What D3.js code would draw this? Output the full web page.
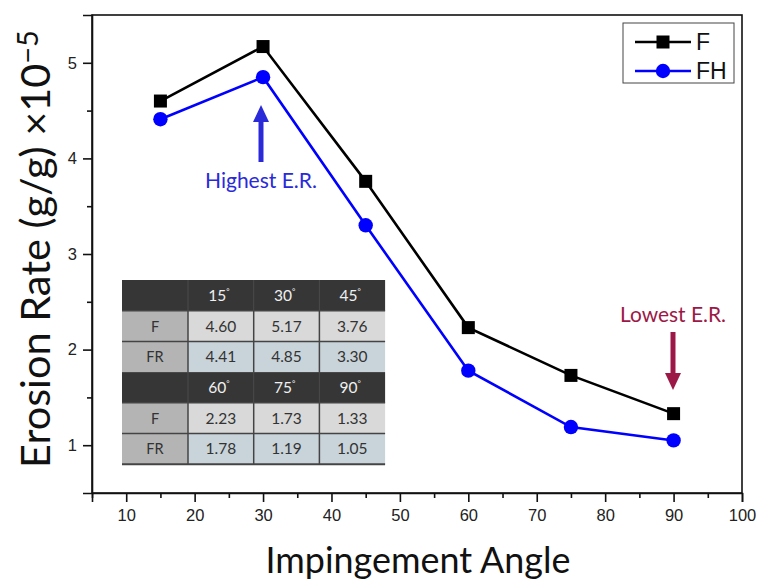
<!DOCTYPE html>
<html><head><meta charset="utf-8">
<script src="https://cdn.jsdelivr.net/npm/d3@7"></script>
<style>html,body{margin:0;padding:0;background:#fff;} svg{display:block;}</style>
</head><body>
<svg id="c" width="760" height="582"></svg>
<script>
const angles = [15, 30, 45, 60, 75, 90];
const seriesF = [4.60, 5.17, 3.76, 2.23, 1.73, 1.33];
const seriesFH = [4.41, 4.85, 3.30, 1.78, 1.19, 1.05];
const legendLabels = ["F", "FH"];
const tableRowLabels = ["F", "FR"];
const xTicks = [10, 20, 30, 40, 50, 60, 70, 80, 90, 100];
const yTicks = [1, 2, 3, 4, 5];

const svg = d3.select("#c");
const m = {l: 92, r: 742, t: 15, b: 493};
const x = d3.scaleLinear().domain([5, 100]).range([m.l, m.r]);
const y = d3.scaleLinear().domain([0.5, 5.5]).range([m.b, m.t]);
const calib = "Lato, 'Open Sans', sans-serif";
const arial = "'Liberation Sans', Arial, sans-serif";

function fitText(sel, target) {
  const w = sel.node().getComputedTextLength();
  const fs = parseFloat(sel.attr("font-size"));
  sel.attr("font-size", fs * target / w);
}

// frame
svg.append("rect").attr("x", m.l).attr("y", m.t).attr("width", m.r - m.l).attr("height", m.b - m.t)
  .attr("fill", "none").attr("stroke", "#111").attr("stroke-width", 1.6);

// x axis
svg.append("g").attr("transform", `translate(0,${m.b})`)
  .call(d3.axisBottom(x).tickValues(xTicks).tickSize(9).tickPadding(7).tickFormat(d3.format("d")));
svg.append("g").attr("transform", `translate(0,${m.b})`)
  .call(d3.axisBottom(x).tickValues(d3.range(5, 100, 10)).tickSize(5).tickFormat(""))
  .call(g => g.select(".domain").remove());
// y axis
svg.append("g").attr("transform", `translate(${m.l},0)`)
  .call(d3.axisLeft(y).tickValues(yTicks).tickSize(9).tickPadding(6).tickFormat(d3.format("d")));
svg.append("g").attr("transform", `translate(${m.l},0)`)
  .call(d3.axisLeft(y).tickValues(d3.range(1.5, 5.5, 1)).tickSize(5).tickFormat(""))
  .call(g => g.select(".domain").remove());
svg.selectAll(".domain").attr("stroke", "#111").attr("stroke-width", 1.6);
svg.selectAll(".tick line").attr("stroke", "#111").attr("stroke-width", 1.6);
svg.selectAll(".tick text").attr("font-family", arial).attr("font-size", 16.5).attr("fill", "#222");

// axis titles
const xt = svg.append("text").attr("x", 418).attr("y", 573).attr("text-anchor", "middle")
  .attr("font-family", calib).attr("font-size", 32).attr("fill", "#111").text("Impingement Angle");
fitText(xt, 305);
const yt = svg.append("text").attr("transform", "translate(50,249) rotate(-90)").attr("text-anchor", "middle")
  .attr("font-family", calib).attr("font-size", 32).attr("fill", "#111");
yt.append("tspan").text("Erosion Rate (g/g) \u00d710");
yt.append("tspan").attr("dy", -12).attr("font-size", "0.7em").text("\u22125");
fitText(yt, 438);

// table
const tX = 122, tY = 280, c0 = 66, cw = 65.7, rh = 30.7;
const headerColor = "#363636", labelColor = "#b4b4b4", fColor = "#d9d9d9", frColor = "#c9d3da";
const tfs = 15.5;
[0, 3].forEach((start, bi) => {
  const by = tY + bi * 3 * rh;
  svg.append("rect").attr("x", tX).attr("y", by).attr("width", c0 + 3 * cw).attr("height", rh).attr("fill", headerColor);
  angles.slice(start, start + 3).forEach((a, i) => {
    const t = svg.append("text").attr("x", tX + c0 + cw * i + cw / 2 - 2).attr("y", by + rh / 2 + 5.5)
      .attr("text-anchor", "middle").attr("font-family", calib).attr("font-size", tfs).attr("fill", "#f0f0f0");
    t.append("tspan").text(a);
    t.append("tspan").attr("dy", -7).attr("font-size", 8).text("\u00b0");
  });
  [seriesF, seriesFH].forEach((ser, ri) => {
    const ry = by + rh * (ri + 1);
    svg.append("rect").attr("x", tX).attr("y", ry).attr("width", c0).attr("height", rh).attr("fill", labelColor);
    svg.append("text").attr("x", tX + c0 / 2).attr("y", ry + rh / 2 + 5.5).attr("text-anchor", "middle")
      .attr("font-family", calib).attr("font-size", tfs - 1).attr("fill", "#333").text(tableRowLabels[ri]);
    ser.slice(start, start + 3).forEach((v, i) => {
      svg.append("rect").attr("x", tX + c0 + cw * i).attr("y", ry).attr("width", cw).attr("height", rh)
        .attr("fill", ri === 0 ? fColor : frColor);
      svg.append("text").attr("x", tX + c0 + cw * i + cw / 2).attr("y", ry + rh / 2 + 5.5).attr("text-anchor", "middle")
        .attr("font-family", calib).attr("font-size", tfs).attr("fill", "#333").text(v.toFixed(2));
    });
    svg.append("line").attr("x1", tX).attr("x2", tX + c0 + 3 * cw).attr("y1", ry).attr("y2", ry)
      .attr("stroke", "#444").attr("stroke-width", 1.5);
  });
  for (let i = 0; i <= 2; i++) {
    const lx = tX + c0 + cw * i;
    svg.append("line").attr("x1", lx).attr("x2", lx).attr("y1", by + rh).attr("y2", by + 3 * rh)
      .attr("stroke", "#444").attr("stroke-width", 1.5);
    svg.append("line").attr("x1", lx).attr("x2", lx).attr("y1", by).attr("y2", by + rh)
      .attr("stroke", "#4a4a4a").attr("stroke-width", 1);
  }
});
svg.append("line").attr("x1", tX).attr("x2", tX + c0 + 3 * cw).attr("y1", tY + 6 * rh).attr("y2", tY + 6 * rh)
  .attr("stroke", "#444").attr("stroke-width", 2);

// lines & markers
const line = d3.line().x((d, i) => x(angles[i])).y(d => y(d));
svg.append("path").datum(seriesF).attr("d", line).attr("fill", "none").attr("stroke", "#000").attr("stroke-width", 2.6);
svg.append("path").datum(seriesFH).attr("d", line).attr("fill", "none").attr("stroke", "#0000ff").attr("stroke-width", 2.6);
svg.selectAll(".mF").data(seriesF).enter().append("rect")
  .attr("x", (d, i) => x(angles[i]) - 6.5).attr("y", d => y(d) - 6.5).attr("width", 13).attr("height", 13).attr("fill", "#000");
svg.selectAll(".mFH").data(seriesFH).enter().append("circle")
  .attr("cx", (d, i) => x(angles[i])).attr("cy", d => y(d)).attr("r", 7.2).attr("fill", "#0000ff");

// legend
svg.append("rect").attr("x", 623).attr("y", 23).attr("width", 111).attr("height", 60)
  .attr("fill", "#fff").attr("stroke", "#444").attr("stroke-width", 1);
[["#000", "sq"], ["#0000ff", "ci"]].forEach(([col, mk], i) => {
  const ly = 42 + i * 29;
  svg.append("line").attr("x1", 635).attr("x2", 691).attr("y1", ly).attr("y2", ly).attr("stroke", col).attr("stroke-width", 2.6);
  if (mk === "sq") svg.append("rect").attr("x", 656.5).attr("y", ly - 6.5).attr("width", 13).attr("height", 13).attr("fill", col);
  else svg.append("circle").attr("cx", 663).attr("cy", ly).attr("r", 7.2).attr("fill", col);
  svg.append("text").attr("x", 696).attr("y", ly + 8).attr("font-family", arial).attr("font-size", 23)
    .attr("fill", "#111").text(legendLabels[i]);
});

// annotations
const blue = "#2a2ad8", crimson = "#9c1846";
function arrow(cx, yFrom, yTo, col) {
  const dir = yTo < yFrom ? -1 : 1;
  const headLen = 17, headW = 8;
  svg.append("line").attr("x1", cx).attr("x2", cx).attr("y1", yFrom).attr("y2", yTo - dir * headLen + dir * 1)
    .attr("stroke", col).attr("stroke-width", 5);
  svg.append("path").attr("d", `M${cx},${yTo} L${cx - headW},${yTo - dir * headLen} L${cx + headW},${yTo - dir * headLen} Z`).attr("fill", col);
}
arrow(261, 162, 105, blue);
const hi = svg.append("text").attr("x", 261).attr("y", 188).attr("text-anchor", "middle").attr("font-family", calib)
  .attr("font-size", 17).attr("fill", blue).text("Highest E.R.");
fitText(hi, 112);
arrow(673, 332, 390, crimson);
const lo = svg.append("text").attr("x", 673).attr("y", 322).attr("text-anchor", "middle").attr("font-family", calib)
  .attr("font-size", 17).attr("fill", crimson).text("Lowest E.R.");
fitText(lo, 106);
</script>
</body></html>
